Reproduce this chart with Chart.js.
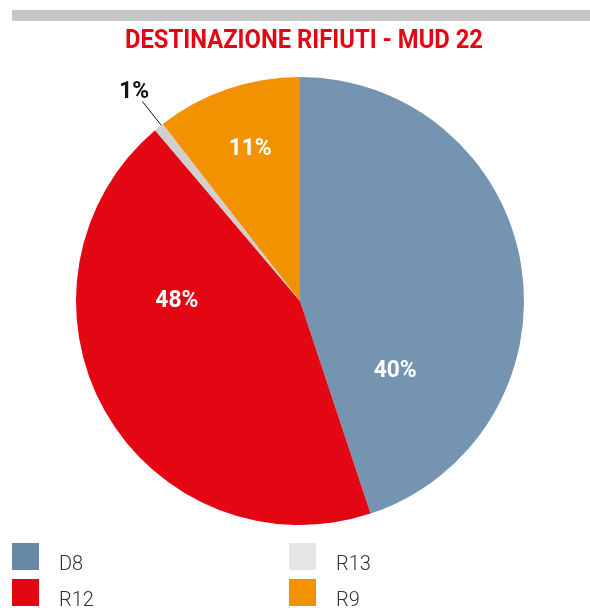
<!DOCTYPE html>
<html>
<head>
<meta charset="utf-8">
<script src="https://cdn.jsdelivr.net/npm/chart.js@4"></script>
<style>
  html, body { margin: 0; padding: 0; background: #fff; }
  #wrap { position: relative; width: 590px; height: 608px; }
</style>
</head>
<body>
<div id="wrap"><canvas id="pieChart" width="590" height="608"></canvas></div>
<script>
// data
const titleText = 'DESTINAZIONE RIFIUTI - MUD 22';
const categories = ['D8', 'R12', 'R13', 'R9'];
const sliceValues = [44.9, 43.9, 0.7, 10.5];       // drawn wedge sizes
const percentLabels = ['40%', '48%', '1%', '11%'];  // printed labels
const sliceColors = ['#7494b1', '#e30613', '#d0d0d0', '#f39200'];
const legendColors = ['#6888a8', '#e30613', '#e5e5e5', '#f39200'];

// label placement: [angle clockwise from top (deg), radius fraction, colour]
const labelPlaces = [
    [126, 0.525, '#ffffff'],
    [270.5, 0.55, '#ffffff'],
    [321.7, 1.195, '#111111'],
    [342, 0.72, '#ffffff'],
];

const pieDecor = {
    id: 'pieDecor',
    beforeDraw(chart) {
        const ctx = chart.ctx;
        ctx.save();
        // grey band at the top
        ctx.fillStyle = '#c6c6c6';
        ctx.fillRect(12, 10, 578, 11);

        // title, condensed to fit
        ctx.font = 'bold 25px Roboto';
        ctx.fillStyle = '#e30613';
        ctx.textBaseline = 'alphabetic';
        const w = ctx.measureText(titleText).width;
        const target = 358;
        ctx.translate(125, 48);
        ctx.scale(target / w, 1);
        ctx.fillText(titleText, 0, 0);
        ctx.restore();
    },
    afterDraw(chart) {
        const ctx = chart.ctx;
        const meta = chart.getDatasetMeta(0);
        ctx.save();
        ctx.textAlign = 'center';
        ctx.textBaseline = 'middle';
        meta.data.forEach((arc, i) => {
            const [ang, frac, col] = labelPlaces[i];
            const a = ang * Math.PI / 180;
            const R = arc.outerRadius;
            const x = arc.x + frac * R * Math.sin(a);
            const y = arc.y - frac * R * Math.cos(a);
            if (frac > 1) {
                // leader line for the small slice
                ctx.strokeStyle = '#111';
                ctx.lineWidth = 1;
                ctx.beginPath();
                ctx.moveTo(arc.x + 1.0 * R * Math.sin(a), arc.y - 1.0 * R * Math.cos(a));
                ctx.lineTo(arc.x + 1.135 * R * Math.sin(a), arc.y - 1.135 * R * Math.cos(a));
                ctx.stroke();
            }
            ctx.save();
            ctx.translate(x, y);
            ctx.scale(0.95, 1);
            ctx.font = 'bold 24px Roboto';
            ctx.fillStyle = col;
            ctx.fillText(percentLabels[i], 0, 1);
            ctx.restore();
        });

        // legend, two columns, filled top-down
        const cols = [12, 289];
        const rows = [543, 579];
        ctx.textAlign = 'left';
        ctx.textBaseline = 'alphabetic';
        categories.forEach((name, i) => {
            const cx = cols[Math.floor(i / 2)];
            const cy = rows[i % 2];
            ctx.fillStyle = legendColors[i];
            ctx.fillRect(cx, cy, 27, 27);
            ctx.fillStyle = '#333333';
            ctx.font = '300 20px Roboto';
            ctx.fillText(name, cx + 47, cy + 27);
        });
        ctx.restore();
    }
};

new Chart(document.getElementById('pieChart'), {
    type: 'pie',
    data: {
        labels: categories,
        datasets: [{
            data: sliceValues,
            backgroundColor: sliceColors,
            borderWidth: 0,
            hoverOffset: 0,
        }],
    },
    options: {
        responsive: false,
        animation: false,
        layout: {
            padding: { left: 76, right: 66, top: 77, bottom: 83 },
        },
        plugins: {
            legend: { display: false },
            tooltip: { enabled: false },
        },
    },
    plugins: [pieDecor],
});
</script>
</body>
</html>
